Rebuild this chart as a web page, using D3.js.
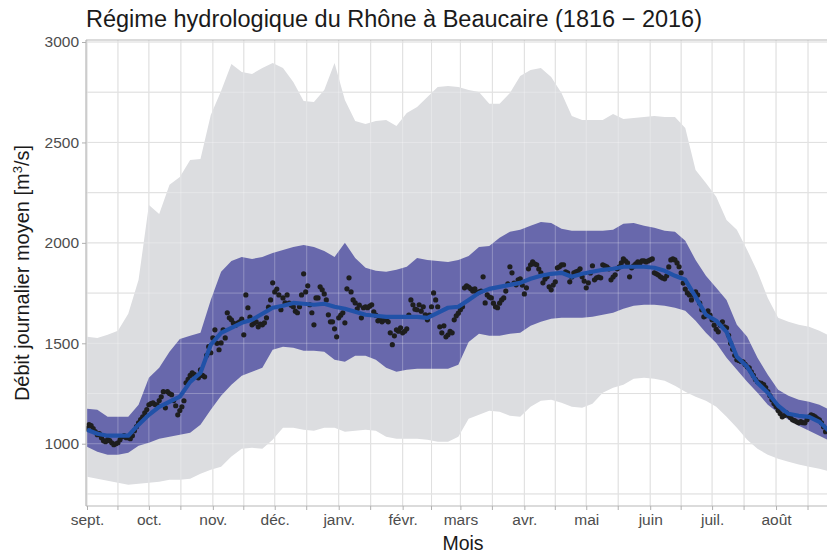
<!DOCTYPE html>
<html>
<head>
<meta charset="utf-8">
<script src="https://cdn.jsdelivr.net/npm/d3@7"></script>
<style>
  body { margin: 0; background: #fff; }
  text { font-family: "Liberation Sans", Arial, sans-serif; }
</style>
</head>
<body>
<script>
// jours depuis le 1er sept., pas de 5 jours pour les enveloppes
var ribbonDays = d3.range(0, 366, 5);

// max journalier
var qMax = [1532,1527,1542,1562,1647,1816,2189,2144,2289,2328,
  2413,2418,2637,2756,2891,2851,2841,2871,2895,2871,
  2801,2706,2701,2761,2895,2711,2607,2592,2607,2612,
  2582,2647,2677,2726,2776,2781,2776,2761,2751,2692,
  2692,2746,2831,2861,2871,2826,2746,2632,2612,2612,
  2612,2642,2617,2622,2627,2632,2627,2627,2572,2363,
  2298,2229,2114,2065,1965,1856,1726,1627,1607,1592,
  1582,1562,1537,1532];

// min journalier
var qMin = [836,826,816,806,796,801,806,811,821,821,
  826,851,871,886,936,975,980,975,1020,1080,
  1080,1070,1065,1080,1080,1060,1065,1070,1065,1035,
  1025,1025,1025,1020,1010,1010,1035,1124,1144,1164,
  1159,1139,1134,1184,1214,1219,1204,1184,1179,1199,
  1254,1279,1294,1323,1328,1323,1313,1289,1259,1234,
  1214,1184,1134,1080,1020,975,945,925,910,896,
  886,876,861,846];

// quantiles (bande violette)
var qHigh = [1174,1169,1134,1134,1134,1194,1328,1378,1458,1522,
  1537,1552,1716,1856,1910,1930,1920,1930,1950,1965,
  1980,1990,1980,1960,1930,2000,1925,1876,1861,1856,
  1866,1881,1925,1915,1910,1905,1915,1935,1980,1985,
  2025,2055,2065,2085,2104,2099,2070,2060,2060,2060,
  2060,2065,2095,2099,2085,2075,2060,2055,2010,1915,
  1836,1776,1716,1592,1532,1428,1343,1269,1239,1219,
  1209,1194,1169,1159];

var qLow = [985,960,945,945,955,990,1005,1025,1035,1045,
  1055,1095,1169,1239,1294,1338,1358,1378,1468,1483,
  1478,1463,1463,1458,1418,1408,1438,1438,1418,1378,
  1358,1368,1373,1373,1373,1373,1393,1507,1547,1537,
  1537,1547,1552,1587,1607,1622,1627,1627,1627,1632,
  1642,1652,1672,1687,1692,1692,1687,1677,1662,1612,
  1552,1502,1428,1368,1308,1254,1194,1154,1119,1090,
  1065,1040,1015,990];

// moyenne lissée
var qSmooth = [1070,1050,1040,1040,1040,1095,1144,1184,1209,1234,
  1308,1353,1493,1552,1577,1602,1617,1647,1677,1687,
  1701,1697,1692,1697,1682,1672,1657,1642,1637,1632,
  1632,1632,1632,1627,1652,1677,1682,1716,1751,1771,
  1781,1791,1801,1821,1836,1846,1851,1831,1846,1856,
  1866,1871,1881,1881,1881,1876,1861,1836,1816,1731,
  1642,1612,1557,1433,1383,1303,1254,1189,1149,1139,
  1134,1109,1060,1030];

// moyenne journalière (1 valeur par jour)
var qDaily = [1075,1095,1090,1075,1060,1045,1050,1030,1015,1010,
  1020,1015,1005,995,1000,1005,1020,1035,1040,1030,
  1030,1025,1040,1065,1085,1104,1120,1134,1154,1170,
  1194,1200,1204,1195,1194,1215,1234,1259,1179,1259,
  1250,1244,1215,1189,1144,1165,1184,1214,1303,1320,
  1340,1353,1345,1335,1328,1368,1340,1333,1440,1483,
  1453,1527,1567,1500,1468,1502,1567,1527,1652,1627,
  1617,1600,1590,1600,1607,1620,1542,1741,1677,1630,
  1592,1600,1607,1582,1595,1592,1602,1627,1680,1716,
  1801,1756,1770,1741,1667,1726,1701,1741,1700,1690,
  1682,1660,1652,1682,1741,1846,1756,1786,1692,1652,
  1592,1726,1726,1781,1766,1746,1716,1642,1607,1607,
  1572,1532,1627,1640,1652,1602,1771,1826,1756,1716,
  1701,1672,1690,1627,1677,1682,1677,1685,1692,1657,
  1640,1612,1620,1607,1615,1620,1607,1552,1493,1537,
  1567,1560,1577,1552,1560,1572,1640,1716,1692,1670,
  1667,1692,1660,1682,1642,1617,1640,1682,1751,1716,
  1682,1582,1552,1587,1532,1542,1560,1552,1617,1637,
  1650,1667,1682,1776,1786,1780,1771,1760,1771,1751,
  1756,1760,1831,1701,1741,1730,1726,1700,1682,1677,
  1700,1716,1726,1760,1796,1881,1851,1800,1791,1816,
  1821,1790,1746,1776,1871,1891,1905,1895,1891,1870,
  1851,1801,1820,1831,1781,1766,1790,1806,1876,1881,
  1890,1891,1856,1851,1806,1830,1851,1856,1860,1871,
  1831,1810,1776,1801,1850,1886,1816,1826,1830,1826,
  1891,1885,1881,1871,1816,1830,1841,1871,1880,1900,
  1920,1910,1900,1831,1876,1885,1896,1905,1900,1910,
  1910,1905,1910,1915,1920,1851,1846,1840,1831,1825,
  1821,1836,1880,1915,1920,1915,1900,1881,1851,1800,
  1770,1751,1741,1716,1740,1756,1741,1700,1667,1632,
  1637,1662,1640,1617,1590,1570,1557,1590,1607,1582,
  1577,1540,1500,1470,1440,1418,1415,1410,1408,1395,
  1383,1378,1358,1340,1320,1308,1303,1300,1294,1280,
  1260,1240,1219,1200,1185,1165,1150,1134,1140,1154,
  1140,1130,1119,1115,1109,1104,1110,1105,1104,1120,
  1134,1144,1140,1134,1125,1119,1104,1085,1060,1070,
  1065,1060,1070,1065,1070];

var monthNames = ['sept.','oct.','nov.','déc.','janv.','févr.','mars','avr.','mai','juin','juil.','août'];
var monthStarts = [0,30,61,91,122,153,181,212,242,273,303,334];
var yTicks = [1000,1500,2000,2500,3000];
var yMinor = [750,1250,1750,2250,2750];

var W = 827, H = 554;
var pLeft = 86, pTop = 40, pBottom = 506, pRight = 860;

var svg = d3.select('body').append('svg')
	.attr('width', W)
	.attr('height', H);

var x = d3.scaleLinear().domain([0, 365]).range([87, 840]);
var y = d3.scaleLinear().domain([690, 3010]).range([pBottom, pTop]);

var xMinor = monthStarts.map(function(d, i){
	var next = i < monthStarts.length - 1 ? monthStarts[i+1] : 365;
	return (d + next) / 2;
});

svg.append('clipPath').attr('id', 'panel')
	.append('rect')
	.attr('x', pLeft).attr('y', pTop)
	.attr('width', pRight - pLeft).attr('height', pBottom - pTop);

var plot = svg.append('g').attr('clip-path', 'url(#panel)');

function grid(g, col, op) {
	g.selectAll('.gy').data(yTicks.concat(yMinor)).enter().append('line')
		.attr('x1', pLeft).attr('x2', pRight)
		.attr('y1', function(d){ return y(d); })
		.attr('y2', function(d){ return y(d); })
		.attr('stroke', col).attr('stroke-opacity', op).attr('stroke-width', 0.9);
	g.selectAll('.gx').data(monthStarts.concat(xMinor)).enter().append('line')
		.attr('y1', pTop).attr('y2', pBottom)
		.attr('x1', function(d){ return x(d); })
		.attr('x2', function(d){ return x(d); })
		.attr('stroke', col).attr('stroke-opacity', op).attr('stroke-width', 0.9);
}

grid(plot.append('g'), '#cfcfcf', 1);

var area = function(lo, hi) {
	return d3.area()
		.x(function(d, i){ return x(ribbonDays[i]); })
		.y0(function(d, i){ return y(lo[i]); })
		.y1(function(d, i){ return y(hi[i]); });
};

plot.append('path')
	.datum(qMax)
	.attr('d', area(qMin, qMax))
	.attr('fill', '#dcdde0');

plot.append('path')
	.datum(qHigh)
	.attr('d', area(qLow, qHigh))
	.attr('fill', '#6868ac');

grid(plot.append('g'), '#ffffff', 0.3);

plot.selectAll('.pt').data(qDaily).enter().append('circle')
	.attr('cx', function(d, i){ return x(i); })
	.attr('cy', function(d){ return y(d); })
	.attr('r', 2.6)
	.attr('fill', '#1e1e1e');

plot.append('path')
	.datum(qSmooth)
	.attr('d', d3.line()
		.x(function(d, i){ return x(ribbonDays[i]); })
		.y(function(d){ return y(d); }))
	.attr('fill', 'none')
	.attr('stroke', '#2152a8')
	.attr('stroke-width', 4.2)
	.attr('stroke-linejoin', 'round');

// cadre / axes
svg.append('line').attr('x1', pLeft).attr('x2', W).attr('y1', pTop).attr('y2', pTop)
	.attr('stroke', '#b8b8b8').attr('stroke-width', 1.2);
svg.append('line').attr('x1', pLeft).attr('x2', W).attr('y1', pBottom).attr('y2', pBottom)
	.attr('stroke', '#b8b8b8').attr('stroke-width', 1.2);
svg.append('line').attr('x1', pLeft).attr('x2', pLeft).attr('y1', pTop).attr('y2', pBottom)
	.attr('stroke', '#b8b8b8').attr('stroke-width', 1.2);

var yAxis = svg.append('g')
	.attr('transform', 'translate(' + pLeft + ',0)')
	.call(d3.axisLeft(y).tickValues(yTicks).tickSize(4).tickPadding(3)
		.tickFormat(d3.format('d')));
yAxis.select('.domain').remove();
yAxis.selectAll('line').attr('stroke', '#b0b0b0');
yAxis.selectAll('text').attr('fill', '#4d4d4d').style('font-size', '15.5px')
	.style('font-family', '"Liberation Sans", Arial, sans-serif');

var xAxis = svg.append('g')
	.attr('transform', 'translate(0,' + pBottom + ')')
	.call(d3.axisBottom(x).tickValues(monthStarts).tickSize(4).tickPadding(4)
		.tickFormat(function(d, i){ return monthNames[i]; }));
xAxis.select('.domain').remove();
xAxis.selectAll('line').attr('stroke', '#b0b0b0');
xAxis.selectAll('text').attr('fill', '#4d4d4d').style('font-size', '15.5px')
	.style('font-family', '"Liberation Sans", Arial, sans-serif');

svg.append('g').selectAll('line').data(xMinor).enter().append('line')
	.attr('x1', function(d){ return x(d); })
	.attr('x2', function(d){ return x(d); })
	.attr('y1', pBottom).attr('y2', pBottom + 4)
	.attr('stroke', '#b0b0b0');

// titres
svg.append('text')
	.attr('x', 86).attr('y', 27)
	.attr('fill', '#1a1a1a')
	.style('font-size', '23.5px')
	.text('Régime hydrologique du Rhône à Beaucaire (1816 − 2016)');

svg.append('text')
	.attr('x', 463).attr('y', 550)
	.attr('text-anchor', 'middle')
	.attr('fill', '#1a1a1a')
	.style('font-size', '19.5px')
	.text('Mois');

var yl = svg.append('text')
	.attr('transform', 'translate(29,273) rotate(-90)')
	.attr('text-anchor', 'middle')
	.attr('fill', '#1a1a1a')
	.style('font-size', '20px');
yl.append('tspan').text('Débit journalier moyen [m');
yl.append('tspan').attr('baseline-shift', 'super').style('font-size', '13px').text('3');
yl.append('tspan').text('/s]');
</script>
</body>
</html>
